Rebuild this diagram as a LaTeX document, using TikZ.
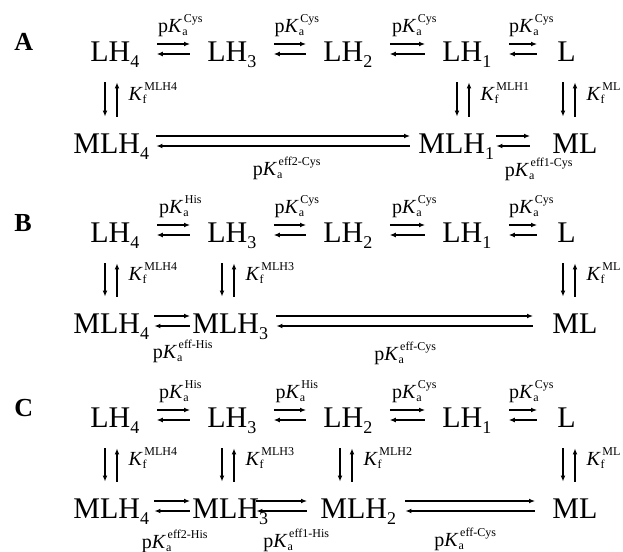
\documentclass[tikz,border=0pt]{standalone}
\usepackage{fontspec}
\setmainfont{Liberation Serif}
\usetikzlibrary{arrows.meta}

\newcommand{\sbs}[1]{\raisebox{-3pt}{\fontsize{9}{9}\selectfont #1}}
\newcommand{\pKa}[1]{p\textit{K}\rlap{\raisebox{-1.5pt}{\fontsize{6}{6}\selectfont a}}\kern0.8pt\raisebox{5pt}{\fontsize{6}{6}\selectfont #1}}
\newcommand{\Kf}[1]{\textit{K}\rlap{\raisebox{-1.5pt}{\fontsize{6}{6}\selectfont f}}\kern0.8pt\raisebox{5pt}{\fontsize{6}{6}\selectfont #1}}

\begin{document}
\begin{tikzpicture}[x=0.5pt, y=-0.5pt,
		sp/.style = {inner sep=0pt, text height=10pt, text depth=3pt, font=\fontsize{15}{18}\selectfont, anchor=base west},
		pn/.style = {inner sep=0pt, font=\fontsize{13}{15}\selectfont\bfseries, anchor=base west},
		lbl/.style = {inner sep=0pt, font=\fontsize{10}{11}\selectfont},
		tl/.style = {lbl, anchor=base, xshift=3.5pt, yshift=6pt},
		kl/.style = {lbl, anchor=base west, xshift=5.5pt},
		fw/.style = {-{Latex[length=3pt,width=2.4pt]}, line width=0.55pt},
		bw/.style = {{Latex[length=3pt,width=2.4pt]}-, line width=0.55pt},
		gap/.style = {shorten <=8.5pt, shorten >=8.5pt},
		vs/.style = {shorten <=7.5pt, shorten >=8pt}
		]
		\useasboundingbox (0,0) rectangle (623,552);

		%Panel A
		\node[pn]	(pa)	at	(14,50)		{A};
		\node[sp]	(aL4)	at	(90,61)		{LH\sbs{4}};
		\node[sp]	(aL3)	at	(207,61)	{LH\sbs{3}};
		\node[sp]	(aL2)	at	(323,61)	{LH\sbs{2}};
		\node[sp]	(aL1)	at	(442,61)	{LH\sbs{1}};
		\node[sp]	(aL0)	at	(557,61)	{L};
		\node[sp]	(aM4)	at	(73,153)	{MLH\sbs{4}};
		\node[sp]	(aM1)	at	(418,153)	{MLH\sbs{1}};
		\node[sp]	(aM0)	at	(552,153)	{ML};

		\draw[fw, gap]	([yshift=5pt]aL4.east)	--	node[tl]	{\pKa{Cys}}	([yshift=5pt]aL3.west);
		\draw[bw, gap]	(aL4.east)	--	(aL3.west);
		\draw[fw, gap]	([yshift=5pt]aL3.east)	--	node[tl]	{\pKa{Cys}}	([yshift=5pt]aL2.west);
		\draw[bw, gap]	(aL3.east)	--	(aL2.west);
		\draw[fw, gap]	([yshift=5pt]aL2.east)	--	node[tl]	{\pKa{Cys}}	([yshift=5pt]aL1.west);
		\draw[bw, gap]	(aL2.east)	--	(aL1.west);
		\draw[fw, gap, shorten >=10pt]	([yshift=5pt]aL1.east)	--	node[tl]	{\pKa{Cys}}	([yshift=5pt]aL0.west);
		\draw[bw, gap, shorten >=10pt]	(aL1.east)	--	(aL0.west);

		\draw[fw, vs]	([xshift=7.5pt]aL4.south west)	--	([xshift=7.5pt]aL4.south west |- aM4.north);
		\draw[bw, vs]	([xshift=13.5pt]aL4.south west)	--	node[kl]	{\Kf{MLH4}}	([xshift=13.5pt]aL4.south west |- aM4.north);
		\draw[fw, vs]	([xshift=7.5pt]aL1.south west)	--	([xshift=7.5pt]aL1.south west |- aM1.north);
		\draw[bw, vs]	([xshift=13.5pt]aL1.south west)	--	node[kl]	{\Kf{MLH1}}	([xshift=13.5pt]aL1.south west |- aM1.north);
		\draw[fw, vs]	([xshift=3pt]aL0.south west)	--	([xshift=3pt]aL0.south west |- aM0.north);
		\draw[bw, vs]	([xshift=9pt]aL0.south west)	--	node[kl]	{\Kf{ML}}	([xshift=9pt]aL0.south west |- aM0.north);

		\draw[fw, shorten <=3.5pt, shorten >=4pt]	([yshift=5pt]aM4.east)	--	([yshift=5pt]aM1.west);
		\draw[bw, shorten <=3.5pt, shorten >=4pt]	(aM4.east)	--	node[lbl, anchor=base, xshift=1.5pt, yshift=-14.5pt]	{\pKa{eff2-Cys}}	(aM1.west);
		\draw[fw, shorten <=1pt, shorten >=11pt]	([yshift=5pt]aM1.east)	--	([yshift=5pt]aM0.west);
		\draw[bw, shorten <=1pt, shorten >=11pt]	(aM1.east)	--	node[lbl, anchor=base, xshift=7.75pt, yshift=-15pt]	{\pKa{eff1-Cys}}	(aM0.west);

		%Panel B
		\node[pn]	(pb)	at	(14,231)	{B};
		\node[sp]	(bL4)	at	(90,242)	{LH\sbs{4}};
		\node[sp]	(bL3)	at	(207,242)	{LH\sbs{3}};
		\node[sp]	(bL2)	at	(323,242)	{LH\sbs{2}};
		\node[sp]	(bL1)	at	(442,242)	{LH\sbs{1}};
		\node[sp]	(bL0)	at	(557,242)	{L};
		\node[sp]	(bM4)	at	(73,333)	{MLH\sbs{4}};
		\node[sp]	(bM3)	at	(192,333)	{MLH\sbs{3}};
		\node[sp]	(bM0)	at	(552,333)	{ML};

		\draw[fw, gap]	([yshift=5pt]bL4.east)	--	node[tl]	{\pKa{His}}	([yshift=5pt]bL3.west);
		\draw[bw, gap]	(bL4.east)	--	(bL3.west);
		\draw[fw, gap]	([yshift=5pt]bL3.east)	--	node[tl]	{\pKa{Cys}}	([yshift=5pt]bL2.west);
		\draw[bw, gap]	(bL3.east)	--	(bL2.west);
		\draw[fw, gap]	([yshift=5pt]bL2.east)	--	node[tl]	{\pKa{Cys}}	([yshift=5pt]bL1.west);
		\draw[bw, gap]	(bL2.east)	--	(bL1.west);
		\draw[fw, gap, shorten >=10pt]	([yshift=5pt]bL1.east)	--	node[tl]	{\pKa{Cys}}	([yshift=5pt]bL0.west);
		\draw[bw, gap, shorten >=10pt]	(bL1.east)	--	(bL0.west);

		\draw[fw, vs]	([xshift=7.5pt]bL4.south west)	--	([xshift=7.5pt]bL4.south west |- bM4.north);
		\draw[bw, vs]	([xshift=13.5pt]bL4.south west)	--	node[kl]	{\Kf{MLH4}}	([xshift=13.5pt]bL4.south west |- bM4.north);
		\draw[fw, vs]	([xshift=7.5pt]bL3.south west)	--	([xshift=7.5pt]bL3.south west |- bM3.north);
		\draw[bw, vs]	([xshift=13.5pt]bL3.south west)	--	node[kl]	{\Kf{MLH3}}	([xshift=13.5pt]bL3.south west |- bM3.north);
		\draw[fw, vs]	([xshift=3pt]bL0.south west)	--	([xshift=3pt]bL0.south west |- bM0.north);
		\draw[bw, vs]	([xshift=9pt]bL0.south west)	--	node[kl]	{\Kf{ML}}	([xshift=9pt]bL0.south west |- bM0.north);

		\draw[fw, shorten <=2.5pt, shorten >=1pt]	([yshift=5pt]bM4.east)	--	([yshift=5pt]bM3.west);
		\draw[bw, shorten <=2.5pt, shorten >=1pt]	(bM4.east)	--	node[lbl, anchor=base, xshift=6pt, yshift=-16pt]	{\pKa{eff-His}}	(bM3.west);
		\draw[fw, shorten <=4pt, shorten >=9.5pt]	([yshift=5pt]bM3.east)	--	([yshift=5pt]bM0.west);
		\draw[bw, shorten <=4pt, shorten >=9.5pt]	(bM3.east)	--	node[lbl, anchor=base, xshift=-2.5pt, yshift=-17pt]	{\pKa{eff-Cys}}	(bM0.west);

		%Panel C
		\node[pn]	(pc)	at	(14,416)	{C};
		\node[sp]	(cL4)	at	(90,427)	{LH\sbs{4}};
		\node[sp]	(cL3)	at	(207,427)	{LH\sbs{3}};
		\node[sp]	(cL2)	at	(323,427)	{LH\sbs{2}};
		\node[sp]	(cL1)	at	(442,427)	{LH\sbs{1}};
		\node[sp]	(cL0)	at	(557,427)	{L};
		\node[sp]	(cM4)	at	(73,518)	{MLH\sbs{4}};
		\node[sp]	(cM3)	at	(192,518)	{MLH\sbs{3}};
		\node[sp]	(cM2)	at	(320,518)	{MLH\sbs{2}};
		\node[sp]	(cM0)	at	(552,518)	{ML};

		\draw[fw, gap]	([yshift=5pt]cL4.east)	--	node[tl]	{\pKa{His}}	([yshift=5pt]cL3.west);
		\draw[bw, gap]	(cL4.east)	--	(cL3.west);
		\draw[fw, gap]	([yshift=5pt]cL3.east)	--	node[tl]	{\pKa{His}}	([yshift=5pt]cL2.west);
		\draw[bw, gap]	(cL3.east)	--	(cL2.west);
		\draw[fw, gap]	([yshift=5pt]cL2.east)	--	node[tl]	{\pKa{Cys}}	([yshift=5pt]cL1.west);
		\draw[bw, gap]	(cL2.east)	--	(cL1.west);
		\draw[fw, gap, shorten >=10pt]	([yshift=5pt]cL1.east)	--	node[tl]	{\pKa{Cys}}	([yshift=5pt]cL0.west);
		\draw[bw, gap, shorten >=10pt]	(cL1.east)	--	(cL0.west);

		\draw[fw, vs]	([xshift=7.5pt]cL4.south west)	--	([xshift=7.5pt]cL4.south west |- cM4.north);
		\draw[bw, vs]	([xshift=13.5pt]cL4.south west)	--	node[kl]	{\Kf{MLH4}}	([xshift=13.5pt]cL4.south west |- cM4.north);
		\draw[fw, vs]	([xshift=7.5pt]cL3.south west)	--	([xshift=7.5pt]cL3.south west |- cM3.north);
		\draw[bw, vs]	([xshift=13.5pt]cL3.south west)	--	node[kl]	{\Kf{MLH3}}	([xshift=13.5pt]cL3.south west |- cM3.north);
		\draw[fw, vs]	([xshift=8.5pt]cL2.south west)	--	([xshift=8.5pt]cL2.south west |- cM2.north);
		\draw[bw, vs]	([xshift=14.5pt]cL2.south west)	--	node[kl]	{\Kf{MLH2}}	([xshift=14.5pt]cL2.south west |- cM2.north);
		\draw[fw, vs]	([xshift=3pt]cL0.south west)	--	([xshift=3pt]cL0.south west |- cM0.north);
		\draw[bw, vs]	([xshift=9pt]cL0.south west)	--	node[kl]	{\Kf{ML}}	([xshift=9pt]cL0.south west |- cM0.north);

		\draw[fw, shorten <=2.5pt, shorten >=1pt]	([yshift=5pt]cM4.east)	--	([yshift=5pt]cM3.west);
		\draw[bw, shorten <=2.5pt, shorten >=1pt]	(cM4.east)	--	node[lbl, anchor=base, xshift=2pt, yshift=-18.5pt]	{\pKa{eff2-His}}	(cM3.west);
		\draw[fw, shorten <=-6pt, shorten >=6.5pt]	([yshift=5pt]cM3.east)	--	([yshift=5pt]cM2.west);
		\draw[bw, shorten <=-6pt, shorten >=6.5pt]	(cM3.east)	--	node[lbl, anchor=base, xshift=1pt, yshift=-18pt]	{\pKa{eff1-His}}	(cM2.west);
		\draw[fw, shorten <=4.5pt, shorten >=8.5pt]	([yshift=5pt]cM2.east)	--	([yshift=5pt]cM0.west);
		\draw[bw, shorten <=4.5pt, shorten >=8.5pt]	(cM2.east)	--	node[lbl, anchor=base, xshift=-4.5pt, yshift=-17.5pt]	{\pKa{eff-Cys}}	(cM0.west);
	\end{tikzpicture}
\end{document}
